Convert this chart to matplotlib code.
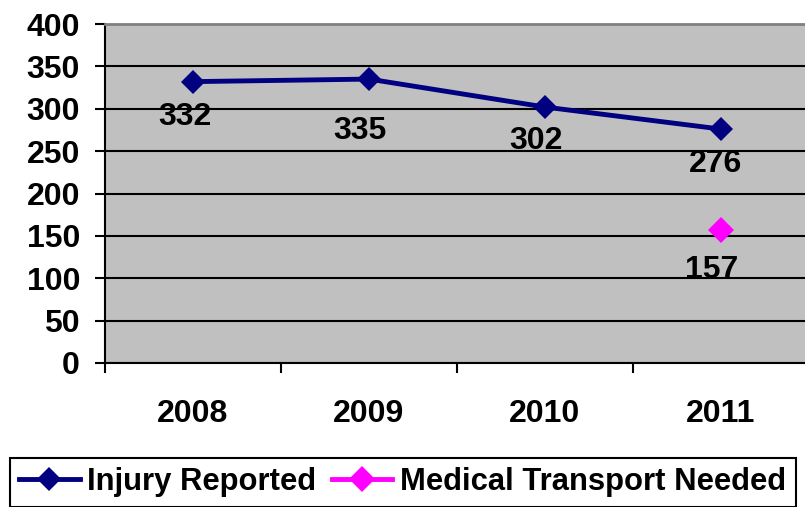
import numpy as np
import matplotlib
matplotlib.use("Agg")
import matplotlib.pyplot as plt

years = ["2008", "2009", "2010", "2011"]
injury_reported = [332, 335, 302, 276]
medical_transport = [np.nan, np.nan, np.nan, 157]
y_ticks = [0, 50, 100, 150, 200, 250, 300, 350, 400]

# label offsets below each marker, in pixels (dx, dy)
injury_label_offsets = [(-8, -35), (-9, -52), (-9, -34), (-5, -35)]
transport_label_offsets = [(-9, -40)]

NAVY = "#000080"
MAGENTA = "#FF00FF"
PX = 0.72  # points per pixel at dpi 100
FS = 23

plt.rcParams["font.family"] = ["Liberation Sans", "DejaVu Sans"]
plt.rcParams["font.weight"] = "bold"

W, H = 805, 507
fig = plt.figure(figsize=(W / 100, H / 100), dpi=100)
ax = fig.add_axes([105 / W, 144 / H, 704 / W, 339 / H])
ax.set_facecolor("#C0C0C0")

x = np.arange(len(years))
ax.plot(x, injury_reported, color=NAVY, lw=3.5, marker="D", ms=12.5,
        mec=NAVY, mew=0, label="Injury Reported", zorder=3)
ax.plot(x, medical_transport, color=MAGENTA, lw=3.5, marker="D", ms=13,
        mec=MAGENTA, mew=0, label="Medical Transport Needed", zorder=3)

for xi, val, (dx, dy) in zip(x, injury_reported, injury_label_offsets):
    ax.annotate(str(val), (xi, val), xytext=(dx * PX, dy * PX),
                textcoords="offset points", ha="center", va="center",
                fontsize=FS, fontweight="bold", zorder=4)

transport_points = [(xi, v) for xi, v in zip(x, medical_transport) if not np.isnan(v)]
for (xi, val), (dx, dy) in zip(transport_points, transport_label_offsets):
    ax.annotate(str(int(val)), (xi, val), xytext=(dx * PX, dy * PX),
                textcoords="offset points", ha="center", va="center",
                fontsize=FS, fontweight="bold", zorder=4)

ax.set_xlim(-0.5, len(years) - 0.5)
ax.set_ylim(0, 400)

ax.set_xticks(np.arange(len(years) + 1) - 0.5)
ax.set_xticklabels([])
ax.set_xticks(x, minor=True)
ax.set_xticklabels(years, minor=True)
ax.tick_params(axis="x", which="major", length=7, width=1.5, direction="out")
ax.tick_params(axis="x", which="minor", length=0, pad=26, labelsize=FS)

ax.set_yticks(y_ticks)
ax.tick_params(axis="y", length=7, width=1.5, direction="out", pad=11, labelsize=FS)

ax.set_axisbelow(True)
ax.yaxis.grid(True, color="black", lw=1.5)

ax.spines["left"].set_linewidth(1.5)
ax.spines["bottom"].set_linewidth(1.5)
ax.spines["top"].set_color("#808080")
ax.spines["top"].set_linewidth(2)
ax.spines["right"].set_visible(False)

leg = fig.legend(loc="upper left", bbox_to_anchor=(10 / W, 1 - 458 / H),
                 bbox_transform=fig.transFigure, ncol=2, frameon=True,
                 fancybox=False, edgecolor="black", framealpha=1,
                 fontsize=22.3, borderaxespad=0, borderpad=0.3,
                 handlelength=1.95, handletextpad=0.25, columnspacing=0.5,
                 numpoints=1)
leg.get_frame().set_linewidth(1.5)

fig.savefig("out.png", dpi=100)
